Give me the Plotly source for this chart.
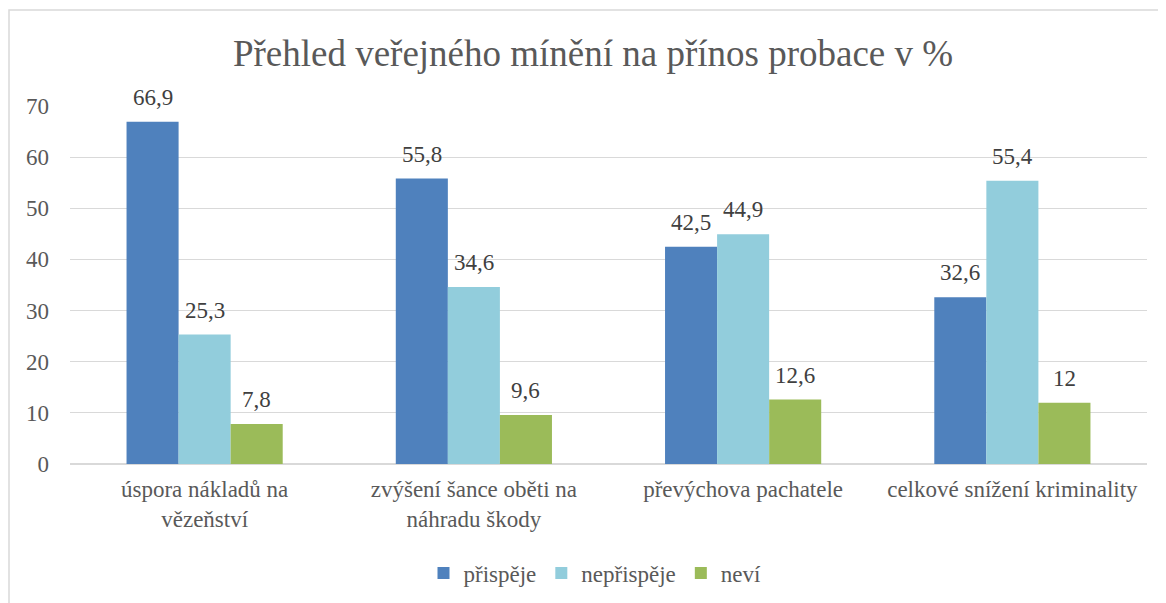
import plotly.graph_objects as go

categories = ["úspora nákladů na<br>vězeňství", "zvýšení šance oběti na<br>náhradu škody",
              "převýchova pachatele", "celkové snížení kriminality"]
series_names = ["přispěje", "nepřispěje", "neví"]
prispeje = [66.9, 55.8, 42.5, 32.6]
neprispeje = [25.3, 34.6, 44.9, 55.4]
nevi = [7.8, 9.6, 12.6, 12]
colors = ["#4F81BD", "#92CDDC", "#9BBB59"]
y_ticks = [0, 10, 20, 30, 40, 50, 60, 70]

FONT = "Liberation Serif, Tinos, Times New Roman, Times, DejaVu Serif, serif"
FS = 23
BARGAP = 0.42

def fmt(v):
    return f"{v:g}".replace(".", ",")

OFF = 8  # page body margin
W, H = 1166, 603
L, T = 70 - OFF, 106 - OFF
R = W - (1147 - OFF)
B = H - (464 - OFF)
pw, ph = W - L - R, H - T - B

all_series = [prispeje, neprispeje, nevi]
fig = go.Figure()
for name, vals, col in zip(series_names, all_series, colors):
    fig.add_trace(go.Bar(
        name=name, x=categories, y=vals, marker_color=col,
        marker_line_width=0, cliponaxis=False,
    ))

# data labels as annotations placed at each bar's value
bar_px = pw / len(categories) * (1 - BARGAP) / len(all_series)
annotations = []
for i, vals in enumerate(all_series):
    for cat, v in zip(categories, vals):
        annotations.append(dict(
            x=cat, y=v, xref="x", yref="y", text=fmt(v), showarrow=False,
            xanchor="center", yanchor="bottom",
            xshift=(i - (len(all_series) - 1) / 2) * bar_px, yshift=10,
            font=dict(family=FONT, size=FS, color="#404040"),
        ))

fig.update_layout(
    width=W, height=H,
    margin=dict(l=L, r=R, t=T, b=B, autoexpand=False),
    paper_bgcolor="white", plot_bgcolor="white",
    barmode="group", bargap=BARGAP, bargroupgap=0,
    font=dict(family=FONT, size=FS, color="#595959"),
    title=dict(text="Přehled veřejného mínění na přínos probace v %",
               font=dict(family=FONT, size=37, color="#595959"),
               x=(593 - OFF - L) / pw, xref="paper", xanchor="center",
               y=1 - (53 - OFF) / H, yref="container", yanchor="middle"),
    xaxis=dict(showgrid=False, showline=False, ticks="", ticklabelstandoff=9,
               tickfont=dict(family=FONT, size=FS, color="#595959")),
    yaxis=dict(range=[0, 70], tickvals=y_ticks, showgrid=True, gridcolor="#D9D9D9",
               gridwidth=1, zeroline=True, zerolinecolor="#D9D9D9", zerolinewidth=2,
               ticks="", ticklabelstandoff=20,
               tickfont=dict(family=FONT, size=FS, color="#595959")),
    legend=dict(orientation="h", x=(595 - OFF - L) / pw, xanchor="center",
                y=-(573 - 464) / ph, yanchor="middle",
                font=dict(family=FONT, size=FS, color="#595959"),
                itemwidth=30, traceorder="normal"),
    annotations=annotations,
    shapes=[dict(type="rect", xref="paper", yref="paper",
                 x0=(1 - L) / pw, x1=(1180 - L) / pw,
                 y0=-(640 - 464) / ph, y1=(T + ph - 2) / ph,
                 line=dict(color="#D9D9D9", width=1.5), fillcolor="rgba(0,0,0,0)",
                 layer="below")],
)

fig.write_html("out.html")
